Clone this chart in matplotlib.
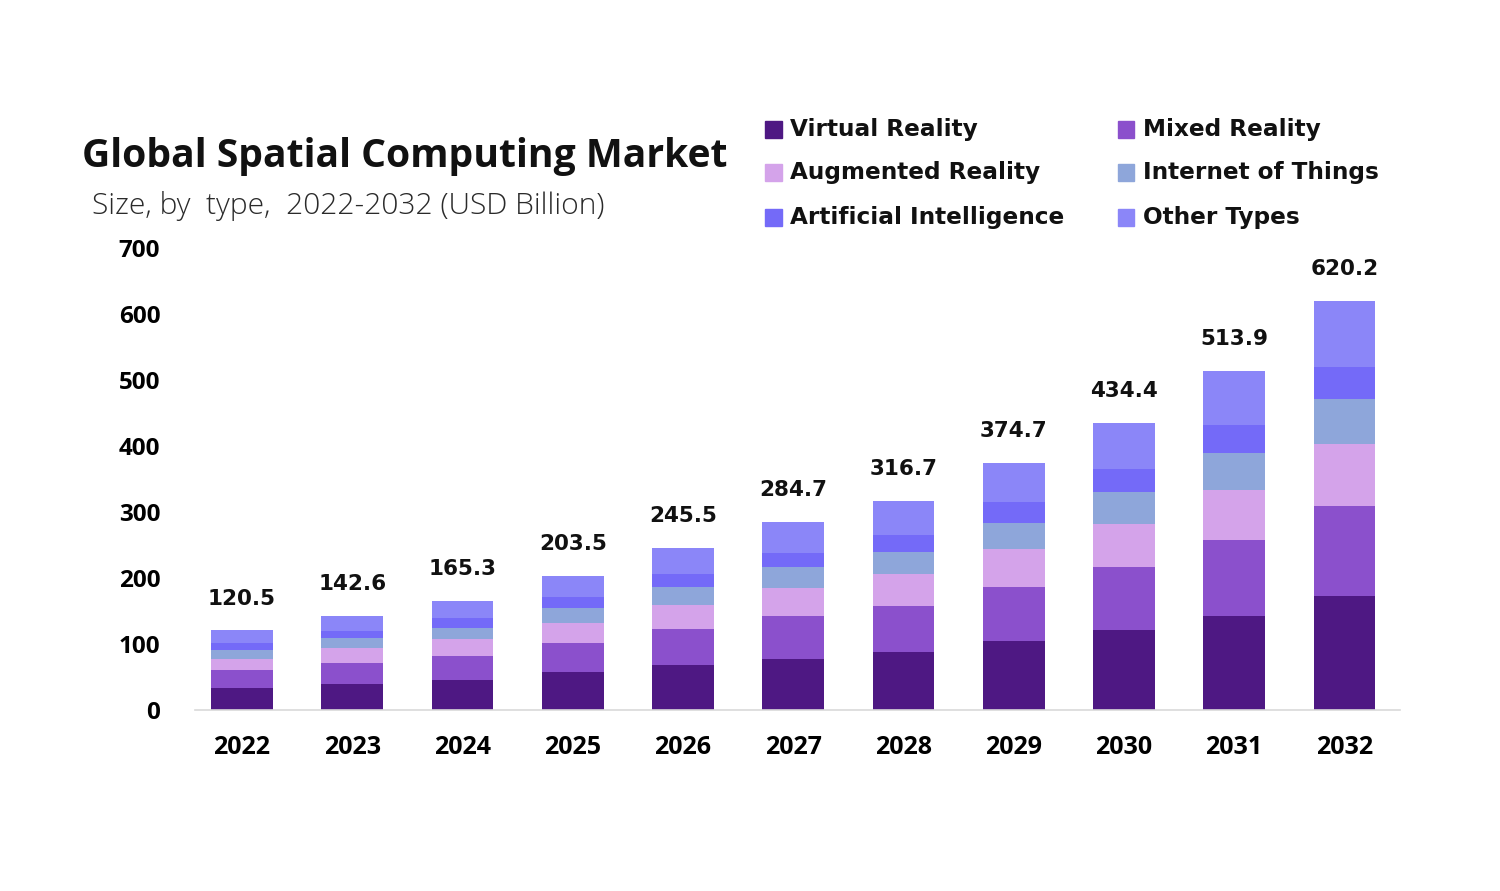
import matplotlib.pyplot as plt
from matplotlib.patches import Rectangle
import numpy as np

years = ["2022", "2023", "2024", "2025", "2026", "2027", "2028", "2029", "2030", "2031", "2032"]
totals = [120.5, 142.6, 165.3, 203.5, 245.5, 284.7, 316.7, 374.7, 434.4, 513.9, 620.2]

virtual_reality = [33.5, 40.0, 45.8, 57.0, 68.5, 78.0, 88.5, 104.3, 121.5, 142.6, 173.2]
mixed_reality = [27.0, 30.8, 36.5, 43.8, 54.3, 63.8, 69.4, 82.5, 95.2, 114.3, 135.9]
augmented_reality = [17.5, 23.0, 25.4, 30.5, 36.0, 42.5, 48.6, 56.7, 65.7, 76.9, 93.9]
internet_of_things = [12.8, 14.9, 16.8, 22.9, 27.4, 31.9, 33.4, 40.6, 48.1, 55.7, 67.7]
artificial_intelligence = [10.8, 11.7, 14.2, 17.3, 20.5, 22.4, 25.9, 31.5, 33.9, 43.0, 49.4]
other_types = [18.9, 22.2, 26.6, 32.0, 38.8, 46.1, 50.9, 59.1, 70.0, 81.4, 100.1]

series = [
    ("Virtual Reality", virtual_reality, "#4e1883"),
    ("Mixed Reality", mixed_reality, "#8b50cc"),
    ("Augmented Reality", augmented_reality, "#d4a3ea"),
    ("Internet of Things", internet_of_things, "#8ea6da"),
    ("Artificial Intelligence", artificial_intelligence, "#746af8"),
    ("Other Types", other_types, "#8b86f8"),
]

fig = plt.figure(figsize=(15, 8.91), dpi=100)
ax = fig.add_axes([0.13, 0.2031, 0.803, 0.5186])

x = np.arange(len(years))
bottom = np.zeros(len(years))
for name, vals, col in series:
    ax.bar(x, vals, 0.56, bottom=bottom, color=col, label=name, zorder=2)
    bottom += np.array(vals)

# totals above the bars
for xi, top, t in zip(x, bottom, totals):
    ax.annotate(f"{t:.1f}", (xi, top), xytext=(0, 23), textcoords="offset points",
                ha="center", va="center", fontsize=15.5, fontweight="bold",
                family="DejaVu Sans", color="#111111")

ax.set_xlim(-0.426, 10.5)
ax.set_ylim(0, 700)
ax.set_xticks(x)
ax.set_xticklabels(years, fontsize=18, fontweight="bold", family="Open Sans")
ax.set_yticks(range(0, 701, 100))
ax.set_yticklabels([str(v) for v in range(0, 701, 100)], fontsize=17.5,
                   fontweight="bold", family="Open Sans")
ax.tick_params(axis="x", length=0, pad=18)
ax.tick_params(axis="y", length=0, pad=25)
for s in ["top", "right", "left"]:
    ax.spines[s].set_visible(False)
ax.spines["bottom"].set_color("#d9d9d9")
ax.spines["bottom"].set_linewidth(1.2)

fig.text(0.055, 0.824, "Global Spatial Computing Market", fontsize=28.2,
         fontweight="bold", family="Open Sans", va="center", color="#111111")
fig.text(0.061, 0.769, "Size, by  type,  2022-2032 (USD Billion)", fontsize=21.6,
         fontweight="light", family="Open Sans", va="center", color="#2a2a2a")

# legend, two columns
leg_x = [0.510, 0.745]
leg_y = [0.855, 0.806, 0.756]
for i, (name, vals, col) in enumerate(series):
    cx = leg_x[i % 2]
    cy = leg_y[i // 2]
    fig.patches.append(Rectangle((cx, cy - 0.0095), 0.011, 0.019, color=col,
                                 transform=fig.transFigure, figure=fig))
    fig.text(cx + 0.017, cy, name, fontsize=16.7, fontweight="bold", family="DejaVu Sans",
             va="center", color="#111111")

fig.savefig("out.png", dpi=100, facecolor="white")
